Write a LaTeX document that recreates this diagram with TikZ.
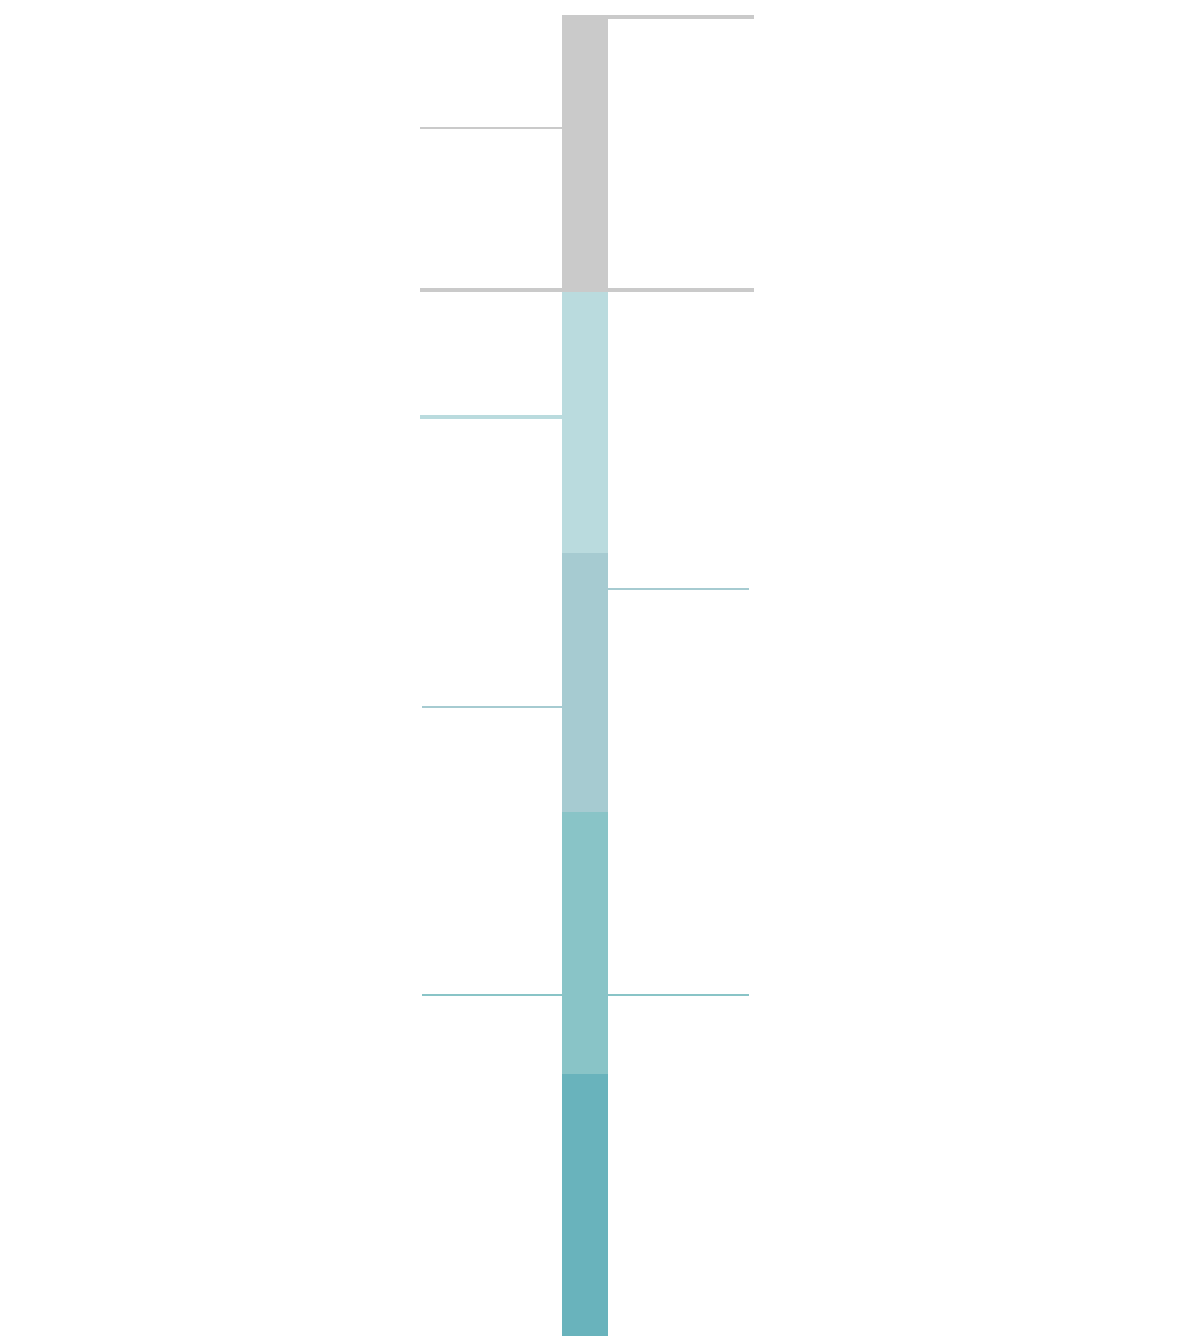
\documentclass[tikz,border=0pt]{standalone}
\usepackage{xcolor}
\usepackage{tikz}

\definecolor{bargray}{HTML}{CACACA}
\definecolor{tealA}{HTML}{BADBDE}
\definecolor{tealB}{HTML}{A6CBD1}
\definecolor{tealC}{HTML}{89C4C7}
\definecolor{tealD}{HTML}{69B3BC}

\begin{document}
\begin{tikzpicture}[
    x=0.02cm, y=-0.02cm,
    seg/.style={draw=none},
    thinline/.style={line width=1.2pt},
    thickline/.style={line width=2.2pt}
]
    % --- Canvas ---
    \useasboundingbox (0,0) rectangle (1187,1336);

    % --- Bar segments ---
    \fill[bargray] (562,15) rectangle (608,290);
    \fill[tealA] (562,290) rectangle (608,553);
    \fill[tealB] (562,553) rectangle (608,812);
    \fill[tealC] (562,812) rectangle (608,1074);
    \fill[tealD] (562,1074) rectangle (608,1336);

    % --- Guide lines ---
    \draw[thickline, bargray] (585,17) -- (754,17);
    \draw[thinline, bargray] (420,128) -- (562,128);
    \draw[thickline, bargray] (420,290) -- (754,290);
    \draw[thickline, tealA] (420,417) -- (562,417);
    \draw[thinline, tealB] (608,589) -- (749,589);
    \draw[thinline, tealB] (422,707) -- (562,707);
    \draw[thinline, tealC] (422,995) -- (562,995);
    \draw[thinline, tealC] (608,995) -- (749,995);

\end{tikzpicture}
\end{document}
